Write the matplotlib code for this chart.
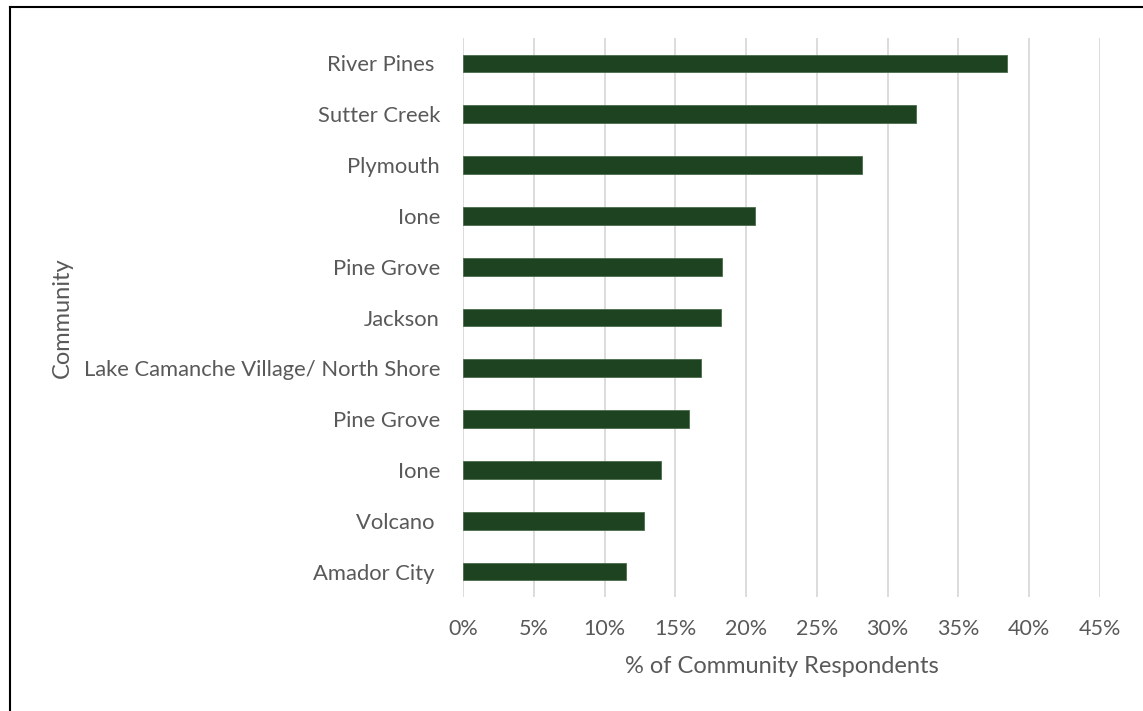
import matplotlib.pyplot as plt
from matplotlib.lines import Line2D
from matplotlib.ticker import PercentFormatter

communities = ["River Pines ", "Sutter Creek", "Plymouth", "Ione", "Pine Grove",
               "Jackson", "Lake Camanche Village/ North Shore", "Pine Grove",
               "Ione", "Volcano ", "Amador City "]
pct = [38.4, 32.0, 28.2, 20.6, 18.3, 18.2, 16.8, 16.0, 14.0, 12.8, 11.5]
xticks = list(range(0, 50, 5))

plt.rcParams['font.family'] = ['Lato', 'DejaVu Sans']
GREY = '#595959'

fig = plt.figure(figsize=(11.43, 7.11), dpi=100)
ax = fig.add_axes([463 / 1143, 1 - 597 / 711, (1100 - 463) / 1143, (597 - 38) / 711])

ypos = list(range(len(communities)))
ax.barh(ypos, pct, height=0.35, color='#1e4320', edgecolor='#4a6b4a', linewidth=0.6, zorder=3)
ax.set_ylim(len(communities) - 0.5, -0.5)
ax.set_xlim(0, 45)
ax.set_yticks(ypos)
ax.set_yticklabels(communities)
ax.set_xticks(xticks)
ax.xaxis.set_major_formatter(PercentFormatter(decimals=0))
ax.grid(axis='x', color='#d9d9d9', linewidth=1.3, zorder=0)
for s in ax.spines.values():
    s.set_visible(False)
ax.tick_params(length=0, labelcolor=GREY)
ax.tick_params(axis='y', pad=16.5, labelsize=15.8)
ax.tick_params(axis='x', pad=16, labelsize=15.5)
ax.set_xlabel("% of Community Respondents", fontsize=17, color=GREY, labelpad=12)

fig.text(62 / 1143, 1 - 318 / 711, "Community", rotation=90, fontsize=17, color=GREY,
         ha='center', va='center')

# frame around the chart (only top and left visible in the crop)
fig.add_artist(Line2D([10 / 1143, 1], [1 - 7 / 711, 1 - 7 / 711], color='black', lw=1.5))
fig.add_artist(Line2D([10 / 1143, 10 / 1143], [0, 1 - 7 / 711], color='black', lw=1.5))

fig.savefig("out.png", dpi=100)
